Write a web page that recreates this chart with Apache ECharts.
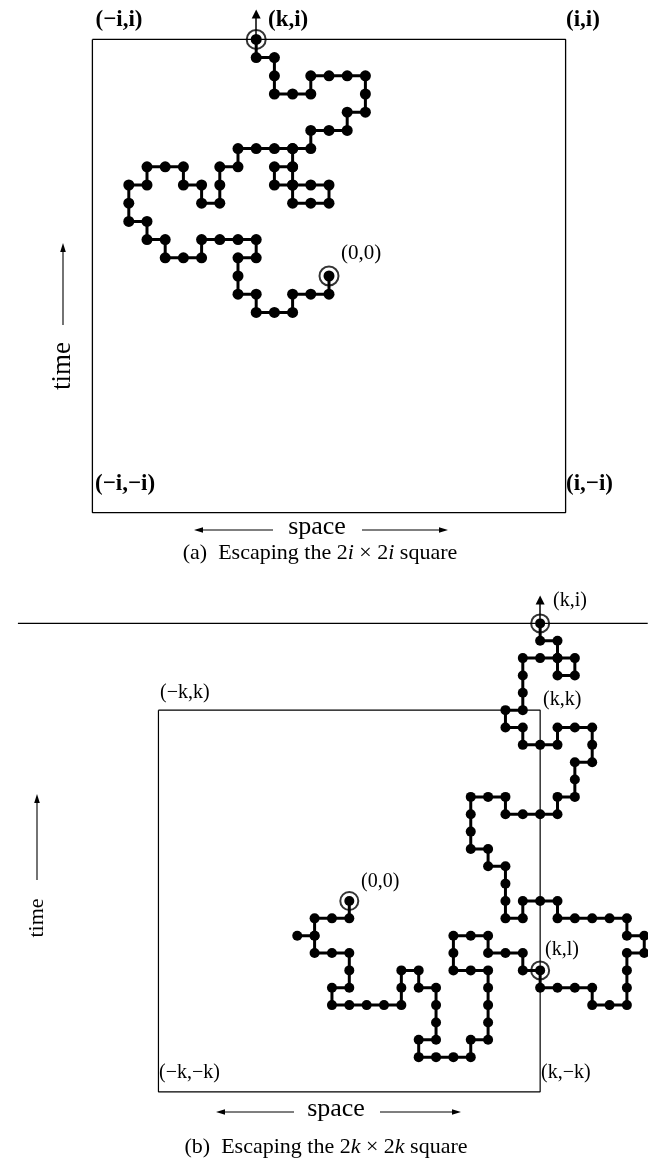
<!DOCTYPE html>
<html><head><meta charset="utf-8">
<script src="https://cdn.jsdelivr.net/npm/echarts@6/dist/echarts.min.js"></script>
<style>html,body{margin:0;padding:0;background:#fff}#c{width:648px;height:1161px}</style>
</head><body><div id="c"></div>
<script>
// ---------- DATA (lattice coordinates) ----------
// (a) walk from (0,0) until it leaves the 2i x 2i square at (k,i), i = 13, k = -4
const iA = 13;
const walkA = [[0,0],[0,-1],[-1,-1],[-2,-1],[-2,-2],[-3,-2],[-4,-2],[-4,-1],[-5,-1],[-5,0],[-5,1],[-4,1],[-4,2],[-5,2],[-6,2],[-7,2],[-7,1],[-8,1],[-9,1],[-9,2],[-10,2],[-10,3],[-11,3],[-11,4],[-11,5],[-10,5],[-10,6],[-9,6],[-8,6],[-8,5],[-7,5],[-7,4],[-6,4],[-6,5],[-6,6],[-5,6],[-5,7],[-4,7],[-3,7],[-2,7],[-2,6],[-3,6],[-3,5],[-2,5],[-1,5],[0,5],[0,4],[-1,4],[-2,4],[-2,5],[-2,6],[-2,7],[-1,7],[-1,8],[0,8],[1,8],[1,9],[2,9],[2,10],[2,11],[1,11],[0,11],[-1,11],[-1,10],[-2,10],[-3,10],[-3,11],[-3,12],[-4,12],[-4,13]];
const circledA = [[0,0],[-4,13]];
const exitArrowA = [[-4,13],[-4,14.4]];
// (b) walk from (0,0): leaves the 2k x 2k square at (k,l), reaches time i at (k,i); k = 11
const kB = 11;
const walkB = [[0,0],[0,-1],[-1,-1],[-2,-1],[-2,-2],[-3,-2],[-2,-2],[-2,-3],[-1,-3],[0,-3],[0,-4],[0,-5],[-1,-5],[-1,-6],[0,-6],[1,-6],[2,-6],[3,-6],[3,-5],[3,-4],[4,-4],[4,-5],[5,-5],[5,-6],[5,-7],[5,-8],[4,-8],[4,-9],[5,-9],[6,-9],[7,-9],[7,-8],[8,-8],[8,-7],[8,-6],[8,-5],[8,-4],[7,-4],[6,-4],[6,-3],[6,-2],[7,-2],[8,-2],[8,-3],[9,-3],[10,-3],[10,-4],[11,-4],[11,-5],[12,-5],[13,-5],[14,-5],[14,-6],[15,-6],[16,-6],[16,-5],[16,-4],[16,-3],[17,-3],[17,-2],[16,-2],[16,-1],[15,-1],[14,-1],[13,-1],[12,-1],[12,0],[11,0],[10,0],[10,-1],[9,-1],[9,0],[9,1],[9,2],[8,2],[8,3],[7,3],[7,4],[7,5],[7,6],[8,6],[9,6],[9,5],[10,5],[11,5],[12,5],[12,6],[13,6],[13,7],[13,8],[14,8],[14,9],[14,10],[13,10],[12,10],[12,9],[11,9],[10,9],[10,10],[9,10],[9,11],[10,11],[10,12],[10,13],[10,14],[11,14],[12,14],[13,14],[13,13],[12,13],[12,14],[12,15],[11,15],[11,16]];
const circledB = [[0,0],[11,-4],[11,16]];
const timeLineB = {y:16, from:-19.1, to:17.2};
const exitArrowB = [[11,16],[11,17.35]];

// ---------- LAYOUT ----------
const W = 648;
const A = {ox:329, oy:276, s:18.2, top:0, h:545};
const B = {ox:349.3, oy:901, s:17.35, top:560, h:601};
function axes(g, idx){
  return {
    x:{type:'value', gridIndex:idx, min:-g.ox/g.s, max:(W-g.ox)/g.s, show:false},
    y:{type:'value', gridIndex:idx, max:(g.oy-g.top)/g.s, min:(g.oy-g.top-g.h)/g.s, show:false}
  };
}
const axA = axes(A,0), axB = axes(B,1);
function square(n){return [[-n,n],[n,n],[n,-n],[-n,-n],[-n,n]];}

const serif = '"Liberation Serif","DejaVu Serif",serif';
function txt(x,y,t,font,align,extra){
  return Object.assign({type:'text', x:x, y:y, z:50, style:{text:t, font:font, fill:'#000', textAlign:align||'left', textVerticalAlign:'middle'}}, extra||{});
}
function arrow(x1,y1,x2,y2){
  const dx=x2-x1, dy=y2-y1, L=Math.hypot(dx,dy), ux=dx/L, uy=dy/L, hl=9, hw=2.8;
  const bx=x2-ux*hl, by=y2-uy*hl;
  return [
    {type:'line', z:50, shape:{x1:x1,y1:y1,x2:bx+ux*2,y2:by+uy*2}, style:{stroke:'#000', lineWidth:1.1}},
    {type:'polygon', z:50, shape:{points:[[x2,y2],[bx-uy*hw,by+ux*hw],[bx+uy*hw,by-ux*hw]]}, style:{fill:'#000'}}
  ];
}

const chart = echarts.init(document.getElementById('c'), null, {renderer:'canvas'});
const pathStyle = (size)=>({type:'line', symbol:'circle', symbolSize:size, showSymbol:true, showAllSymbol:true,
  itemStyle:{color:'#000'}, lineStyle:{color:'#000', width:3}, z:5, silent:true});
const ring = {type:'scatter', symbol:'circle', symbolSize:19, itemStyle:{color:'rgba(0,0,0,0)', borderColor:'#000', borderWidth:2}, z:6, silent:true};

const graphics = [].concat(
  // (a) labels
  txt(119,20,'(−i,i)','bold 23px '+serif,'center'),
  txt(268,20,'(k,i)','bold 23px '+serif,'left'),
  txt(566,20,'(i,i)','bold 23px '+serif,'left'),
  txt(95,484,'(−i,−i)','bold 23px '+serif,'left'),
  txt(566,484,'(i,−i)','bold 23px '+serif,'left'),
  txt(341,253,'(0,0)','21px '+serif,'left'),
  txt(63,366,'time','27px '+serif,'center',{rotation:Math.PI/2}),
  arrow(63,325,63,243),
  txt(317,527,'space','26px '+serif,'center'),
  arrow(273,530,194,530),
  arrow(362,530,448,530),
  {type:'text', x:320, y:553, z:50, style:{text:'(a)  Escaping the 2{i|i} × 2{i|i} square', font:'22px '+serif, fill:'#000', textAlign:'center', textVerticalAlign:'middle', rich:{i:{font:'italic 22px '+serif, fill:'#000'}}}},
  // (b) labels
  txt(553,601,'(k,i)','20px '+serif,'left'),
  txt(543,700,'(k,k)','20px '+serif,'left'),
  txt(160,693,'(−k,k)','20px '+serif,'left'),
  txt(361,882,'(0,0)','20px '+serif,'left'),
  txt(545,950,'(k,l)','20px '+serif,'left'),
  txt(159,1073,'(−k,−k)','20px '+serif,'left'),
  txt(541,1073,'(k,−k)','20px '+serif,'left'),
  txt(37,918,'time','22px '+serif,'center',{rotation:Math.PI/2}),
  arrow(37,880,37,794),
  txt(336,1109,'space','26px '+serif,'center'),
  arrow(294,1112,216,1112),
  arrow(380,1112,461,1112),
  {type:'text', x:326, y:1147, z:50, style:{text:'(b)  Escaping the 2{i|k} × 2{i|k} square', font:'22px '+serif, fill:'#000', textAlign:'center', textVerticalAlign:'middle', rich:{i:{font:'italic 22px '+serif, fill:'#000'}}}}
);

chart.setOption({
  animation:false,
  backgroundColor:'#fff',
  grid:[
    {left:0, top:A.top, width:W, height:A.h},
    {left:0, top:B.top, width:W, height:B.h}
  ],
  xAxis:[axA.x, axB.x],
  yAxis:[axA.y, axB.y],
  graphic: graphics,
  series:[
    {type:'line', xAxisIndex:0, yAxisIndex:0, data:square(iA), symbol:'none', lineStyle:{color:'#000', width:1.3}, z:2, silent:true},
    Object.assign({}, pathStyle(11), {xAxisIndex:0, yAxisIndex:0, data:walkA}),
    Object.assign({}, ring, {xAxisIndex:0, yAxisIndex:0, data:circledA}),
    {type:'lines', coordinateSystem:'cartesian2d', xAxisIndex:0, yAxisIndex:0, clip:false, symbol:['none','triangle'], symbolSize:[0,9],
      lineStyle:{color:'#000', width:1.5, opacity:1}, data:[{coords:exitArrowA}], z:4, silent:true},

    {type:'line', xAxisIndex:1, yAxisIndex:1, data:square(kB), symbol:'none', lineStyle:{color:'#000', width:1.2}, z:2, silent:true},
    {type:'line', xAxisIndex:1, yAxisIndex:1, data:[[timeLineB.from,timeLineB.y],[timeLineB.to,timeLineB.y]], symbol:'none', lineStyle:{color:'#000', width:1.2}, z:2, silent:true},
    Object.assign({}, pathStyle(10), {xAxisIndex:1, yAxisIndex:1, data:walkB}),
    Object.assign({}, ring, {symbolSize:18, xAxisIndex:1, yAxisIndex:1, data:circledB}),
    {type:'lines', coordinateSystem:'cartesian2d', xAxisIndex:1, yAxisIndex:1, clip:false, symbol:['none','triangle'], symbolSize:[0,9],
      lineStyle:{color:'#000', width:1.5, opacity:1}, data:[{coords:exitArrowB}], z:4, silent:true}
  ]
});
</script></body></html>
